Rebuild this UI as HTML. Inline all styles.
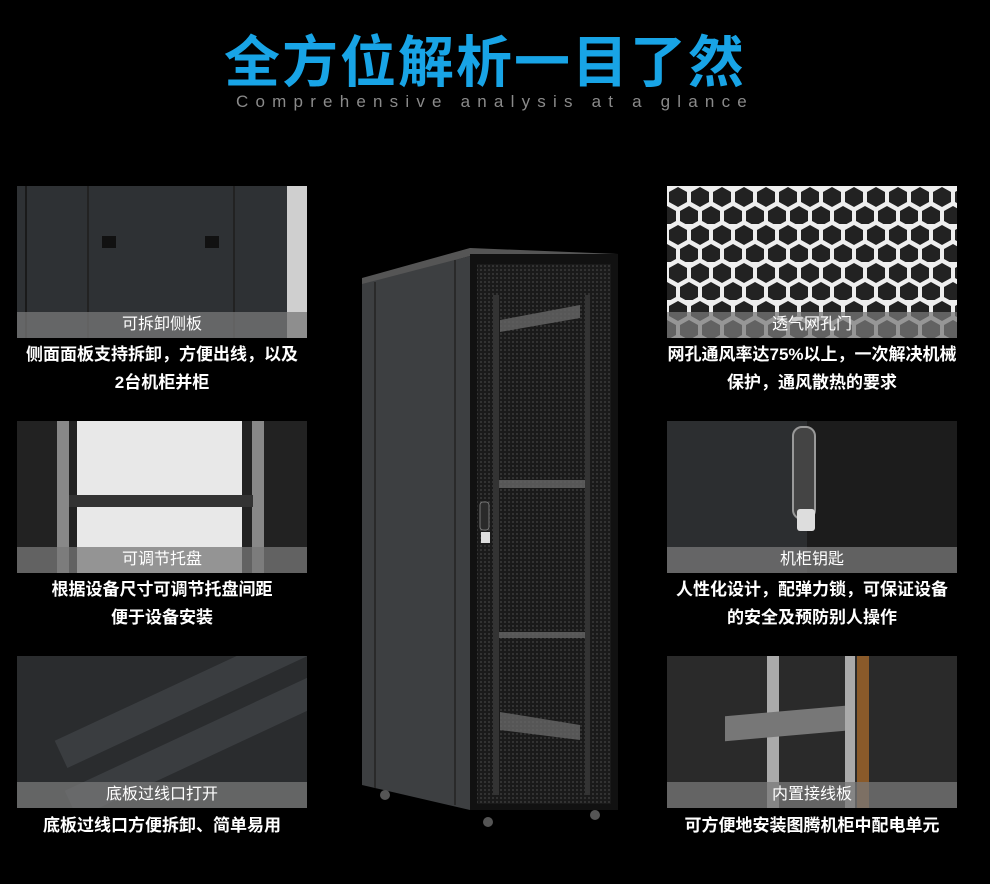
<!DOCTYPE html>
<html><head><meta charset="utf-8"><style>
body{margin:0;background:#000;width:990px;height:884px;overflow:hidden;position:relative;font-family:"Liberation Sans","Noto Sans CJK SC",sans-serif;}
.t{position:absolute;left:-10px;width:990px;text-align:center;top:32px;color:#18a4e6;font-size:56px;font-weight:bold;letter-spacing:2px;line-height:62px}
.s{position:absolute;left:0;width:990px;text-align:center;top:92px;color:#8a8a8a;font-size:17px;letter-spacing:7.2px}
.p{position:absolute;width:290px;height:152px;overflow:hidden}
.band{position:absolute;left:0;bottom:0;width:100%;height:26px;background:rgba(120,120,120,.75);color:#fff;font-size:16px;text-align:center;line-height:26px}
.d{position:absolute;width:340px;text-align:center;color:#fff;font-size:17px;line-height:28px;font-weight:bold}
</style></head><body>
<div class="t">全方位解析一目了然</div>
<div class="s">Comprehensive analysis at a glance</div>

<div class="p" style="left:17px;top:186px;background:#2e3134">
<div style="position:absolute;left:8px;top:0;width:2px;height:152px;background:#1a1a1a"></div>
<div style="position:absolute;left:70px;top:0;width:2px;height:152px;background:#222"></div>
<div style="position:absolute;left:216px;top:0;width:2px;height:152px;background:#222"></div>
<div style="position:absolute;left:270px;top:0;width:20px;height:152px;background:#cfcfcf"></div>
<div style="position:absolute;left:85px;top:50px;width:14px;height:12px;background:#111"></div>
<div style="position:absolute;left:188px;top:50px;width:14px;height:12px;background:#111"></div>
<div class="band">可拆卸侧板</div></div>
<div class="d" style="left:-8px;top:341px">侧面面板支持拆卸，方便出线，以及<br>2台机柜并柜</div>

<div class="p" style="left:17px;top:421px;background:#e8e8e8">
<div style="position:absolute;left:0;top:0;width:60px;height:152px;background:#222"></div>
<div style="position:absolute;left:40px;top:0;width:12px;height:152px;background:#888"></div>
<div style="position:absolute;left:225px;top:0;width:65px;height:152px;background:#222"></div>
<div style="position:absolute;left:235px;top:0;width:12px;height:152px;background:#888"></div>
<div style="position:absolute;left:52px;top:74px;width:184px;height:12px;background:#333"></div>
<div class="band">可调节托盘</div></div>
<div class="d" style="left:-8px;top:576px">根据设备尺寸可调节托盘间距<br>便于设备安装</div>

<div class="p" style="left:17px;top:656px;background:#2a2c2e">
<div style="position:absolute;left:30px;top:20px;width:300px;height:30px;background:#3a3d40;transform:rotate(-25deg)"></div>
<div style="position:absolute;left:40px;top:70px;width:300px;height:30px;background:#3a3d40;transform:rotate(-25deg)"></div>
<div class="band">底板过线口打开</div></div>
<div class="d" style="left:-8px;top:812px">底板过线口方便拆卸、简单易用</div>

<div class="p" style="left:667px;top:186px;background:#eee">
<svg width="290" height="152"><defs><pattern id="h" width="22" height="38" patternUnits="userSpaceOnUse"><polygon points="11,1 20,6 20,16 11,21 2,16 2,6" fill="#222"/><polygon points="0,20 9,25 9,35 0,40 -9,35 -9,25" fill="#222"/><polygon points="22,20 31,25 31,35 22,40 13,35 13,25" fill="#222"/></pattern></defs><rect width="290" height="152" fill="url(#h)"/></svg>
<div class="band">透气网孔门</div></div>
<div class="d" style="left:642px;top:341px">网孔通风率达75%以上，一次解决机械<br>保护，通风散热的要求</div>

<div class="p" style="left:667px;top:421px;background:#2c2e30">
<div style="position:absolute;left:140px;top:0;width:150px;height:152px;background:#1c1c1c"></div>
<div style="position:absolute;left:125px;top:5px;width:20px;height:90px;border-radius:10px;background:#444;border:2px solid #999"></div>
<div style="position:absolute;left:130px;top:88px;width:18px;height:22px;background:#ddd;border-radius:3px"></div>
<div class="band">机柜钥匙</div></div>
<div class="d" style="left:642px;top:576px">人性化设计，配弹力锁，可保证设备<br>的安全及预防别人操作</div>

<div class="p" style="left:667px;top:656px;background:#2a2a2a">
<div style="position:absolute;left:100px;top:0;width:12px;height:152px;background:#aaa"></div>
<div style="position:absolute;left:178px;top:0;width:10px;height:152px;background:#aaa"></div>
<div style="position:absolute;left:58px;top:55px;width:120px;height:25px;background:#777;transform:skewY(-5deg)"></div>
<div style="position:absolute;left:190px;top:0;width:12px;height:152px;background:#8a5a2a"></div>
<div class="band">内置接线板</div></div>
<div class="d" style="left:642px;top:812px">可方便地安装图腾机柜中配电单元</div>

<svg style="position:absolute;left:355px;top:240px" width="275" height="600">
<defs><pattern id="m" width="4" height="4" patternUnits="userSpaceOnUse"><rect width="4" height="4" fill="#1a1a1a"/><circle cx="2" cy="2" r="1" fill="#3a3a3a"/></pattern></defs>
<polygon points="7,38 115,8 263,14 263,22 115,16 7,46" fill="#555"/>
<polygon points="7,44 115,16 115,570 7,545" fill="#3d3f41"/>
<line x1="20" y1="42" x2="20" y2="548" stroke="#2a2a2a" stroke-width="2"/>
<line x1="100" y1="20" x2="100" y2="565" stroke="#2a2a2a" stroke-width="2"/>
<rect x="115" y="14" width="148" height="556" fill="#111"/>
<rect x="122" y="24" width="134" height="540" fill="url(#m)"/>
<g fill="#666" opacity=".8">
<polygon points="145,80 225,65 225,78 145,92"/>
<rect x="140" y="240" width="90" height="8"/>
<rect x="140" y="392" width="90" height="6"/>
<polygon points="145,472 225,485 225,500 145,490"/>
</g>
<rect x="138" y="55" width="6" height="500" fill="#333"/>
<rect x="230" y="55" width="5" height="500" fill="#333"/>
<rect x="125" y="262" width="9" height="28" rx="3" fill="#2a2a2a" stroke="#777"/>
<rect x="126" y="292" width="9" height="11" fill="#ddd"/>
<circle cx="30" cy="555" r="5" fill="#555"/><circle cx="133" cy="582" r="5" fill="#555"/><circle cx="240" cy="575" r="5" fill="#555"/>
</svg>
</body></html>
